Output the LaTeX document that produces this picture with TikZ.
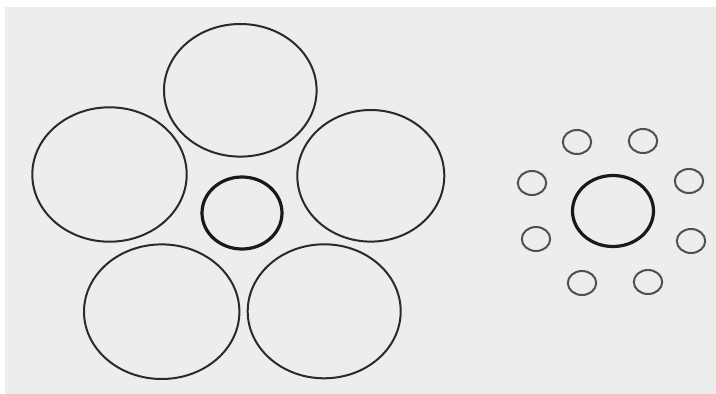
\documentclass[tikz,border=0pt]{standalone}
\definecolor{paper}{HTML}{ECEEEB}
\definecolor{bigline}{HTML}{2A2A2A}
\definecolor{smallline}{HTML}{505050}
\tikzset{
  bigring/.style={draw=bigline, line width=2pt},
  coreRing/.style={draw=black!90, line width=3.2pt},
  smallring/.style={draw=smallline, line width=2pt}
}
\begin{document}
\begin{tikzpicture}[x=1pt,y=-1pt]
  \useasboundingbox (0,0) rectangle (716,394);
  \fill[white] (0,0) rectangle (716,394);
  \fill[paper] (5,7) rectangle (716,394);
  % left group
  \draw[bigring] (240.3,90.3) ellipse [x radius=76.3, y radius=66.3];
  \draw[bigring] (109.5,174.5) ellipse [x radius=77.2, y radius=67.2];
  \draw[bigring] (370.8,175.8) ellipse [x radius=73.5, y radius=65.8];
  \draw[bigring] (161.7,311.7) ellipse [x radius=77.7, y radius=67.3];
  \draw[bigring] (324.2,311.3) ellipse [x radius=76.5, y radius=67];
  \draw[coreRing] (242,213) ellipse [x radius=40, y radius=36];
  % right group
  \draw[coreRing] (613,211) ellipse [x radius=40.5, y radius=35.5];
  \foreach \p in {(577,142),(643,141),(532,183),(689,181),(536,239),(691,241),(582,283),(648,282)}
    \draw[smallring] \p ellipse [x radius=14.2, y radius=12];
\end{tikzpicture}
\end{document}
